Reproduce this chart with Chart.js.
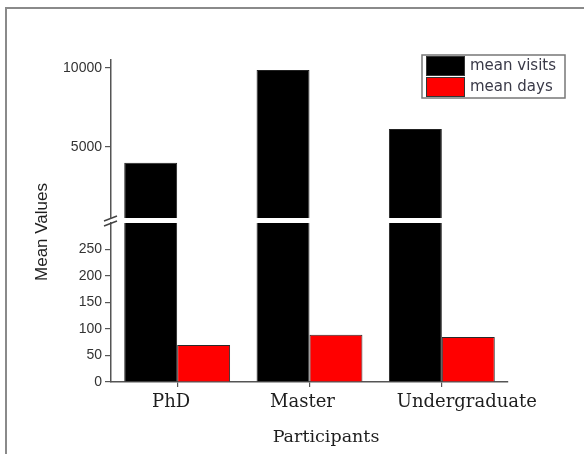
<!DOCTYPE html>
<html>
<head>
<meta charset="utf-8">
<script src="https://cdn.jsdelivr.net/npm/chart.js@4.4.1/dist/chart.umd.min.js"></script>
<style>
  html, body { margin: 0; padding: 0; background: #fff; }
  #wrap { position: relative; width: 584px; height: 454px; overflow: hidden; }
  #wrap canvas { position: absolute; left: 0; top: 0; }
  #frame { position: absolute; left: 5px; top: 7px; width: 620px; height: 520px; border: 2px solid #8a8a8a; }
</style>
</head>
<body>
<div id="wrap">
  <div id="frame"></div>
  <canvas id="lower" width="584" height="454"></canvas>
  <canvas id="upper" width="584" height="454"></canvas>
</div>
<script>
// Participant groups and their mean values
const categories = ['PhD', 'Master', 'Undergraduate'];
const meanVisits = [4000, 9870, 6140];
const meanDays = [70, 89, 85];

// Broken y axis: a lower band for small values and an upper band for visits
const lowerRange = [0, 300];
const upperRange = [500, 10500];
const lowerTicks = [0, 50, 100, 150, 200, 250];
const upperTicks = [5000, 10000];

const AXIS_COLOR = '#555';
const SERIF = 'DejaVu Serif';
const SANS = 'Liberation Sans';
// horizontal nudge of each category label relative to its tick (px)
const LABEL_NUDGE = [-6, -7, 25];

function makeDatasets() {
  return [
    { label: 'mean visits', data: meanVisits, backgroundColor: '#000000', borderColor: '#222222', borderWidth: 1, clip: 0 },
    { label: 'mean days', data: meanDays, backgroundColor: '#ff0000', borderColor: '#2a2a2a', borderWidth: 1, clip: 0 }
  ];
}

function yScale(range, ticks) {
  return {
    min: range[0],
    max: range[1],
    afterBuildTicks(s) { s.ticks = ticks.map(v => ({ value: v })); },
    afterFit(s) { s.width = 105; },
    grid: { drawOnChartArea: false, drawTicks: true, tickLength: 6, color: AXIS_COLOR, lineWidth: 1.2 },
    border: { color: AXIS_COLOR, width: 1.5 },
    ticks: { font: { family: SANS, size: 14 }, color: '#333', padding: 3, callback: v => String(v) }
  };
}

// Category labels, axis titles and the "//" break marks on the y axis
const decorations = {
  id: 'decorations',
  afterDraw(chart) {
    const { ctx, chartArea } = chart;
    const xs = chart.scales.x;
    ctx.save();
    ctx.fillStyle = '#1e1e1e';
    ctx.textAlign = 'center';
    ctx.textBaseline = 'alphabetic';
    ctx.font = '18px ' + SERIF;
    chart.data.labels.forEach((lab, i) => {
      ctx.fillText(lab, xs.getPixelForTick(i) + LABEL_NUDGE[i], chartArea.bottom + 25);
    });
    ctx.textBaseline = 'middle';
    ctx.font = '17.5px ' + SERIF;
    ctx.fillText('Participants', 326, 437);
    ctx.translate(42, 232);
    ctx.rotate(-Math.PI / 2);
    ctx.font = '17px ' + SANS;
    ctx.fillText('Mean Values', 0, 0);
    ctx.restore();

    const x = chartArea.left;
    const yTop = chartArea.top;
    ctx.save();
    ctx.strokeStyle = '#444';
    ctx.lineWidth = 1.4;
    ctx.beginPath();
    ctx.moveTo(x - 7, yTop - 2); ctx.lineTo(x + 6, yTop - 7);
    ctx.moveTo(x - 7, yTop + 3); ctx.lineTo(x + 6, yTop - 2);
    ctx.stroke();
    ctx.restore();
  }
};

// Boxed legend with swatches on the left
const boxedLegend = {
  id: 'boxedLegend',
  afterDraw(chart) {
    const { ctx } = chart;
    const left = 422, top = 55, width = 143, rowH = 21;
    const rows = chart.data.datasets;
    ctx.save();
    rows.forEach((ds, i) => {
      const y = top + 1 + i * rowH;
      ctx.fillStyle = ds.backgroundColor;
      ctx.fillRect(left + 4, y, 39, rowH - 1);
      ctx.strokeStyle = '#333';
      ctx.lineWidth = 1;
      ctx.strokeRect(left + 4.5, y + 0.5, 38, rowH - 2);
      ctx.fillStyle = '#3a3a48';
      ctx.font = '15px DejaVu Sans';
      ctx.textAlign = 'left';
      ctx.textBaseline = 'middle';
      ctx.fillText(ds.label, left + 48, y + rowH / 2);
    });
    ctx.strokeStyle = '#777';
    ctx.lineWidth = 1.5;
    ctx.strokeRect(left, top, width, rows.length * rowH + 1);
    ctx.restore();
  }
};

new Chart(document.getElementById('lower'), {
  type: 'bar',
  data: { labels: categories, datasets: makeDatasets() },
  options: {
    responsive: false,
    animation: false,
    layout: { padding: { left: 6, top: 223, right: 76, bottom: 0 } },
    datasets: { bar: { barPercentage: 1, categoryPercentage: 0.8 } },
    plugins: { legend: { display: false }, tooltip: { enabled: false } },
    scales: {
      x: {
        afterFit(s) { s.height = 72; },
        grid: { offset: false, drawOnChartArea: false, drawTicks: true, tickLength: 5, color: AXIS_COLOR, lineWidth: 1.2 },
        border: { color: AXIS_COLOR, width: 1.5 },
        ticks: { display: false, autoSkip: false, maxRotation: 0 }
      },
      y: yScale(lowerRange, lowerTicks)
    }
  },
  plugins: [decorations]
});

new Chart(document.getElementById('upper'), {
  type: 'bar',
  data: { labels: categories, datasets: makeDatasets() },
  options: {
    responsive: false,
    animation: false,
    layout: { padding: { left: 6, top: 60, right: 76, bottom: 236 } },
    datasets: { bar: { barPercentage: 1, categoryPercentage: 0.8 } },
    plugins: { legend: { display: false }, tooltip: { enabled: false } },
    scales: {
      x: { display: false },
      y: yScale(upperRange, upperTicks)
    }
  },
  plugins: [boxedLegend]
});
</script>
</body>
</html>
